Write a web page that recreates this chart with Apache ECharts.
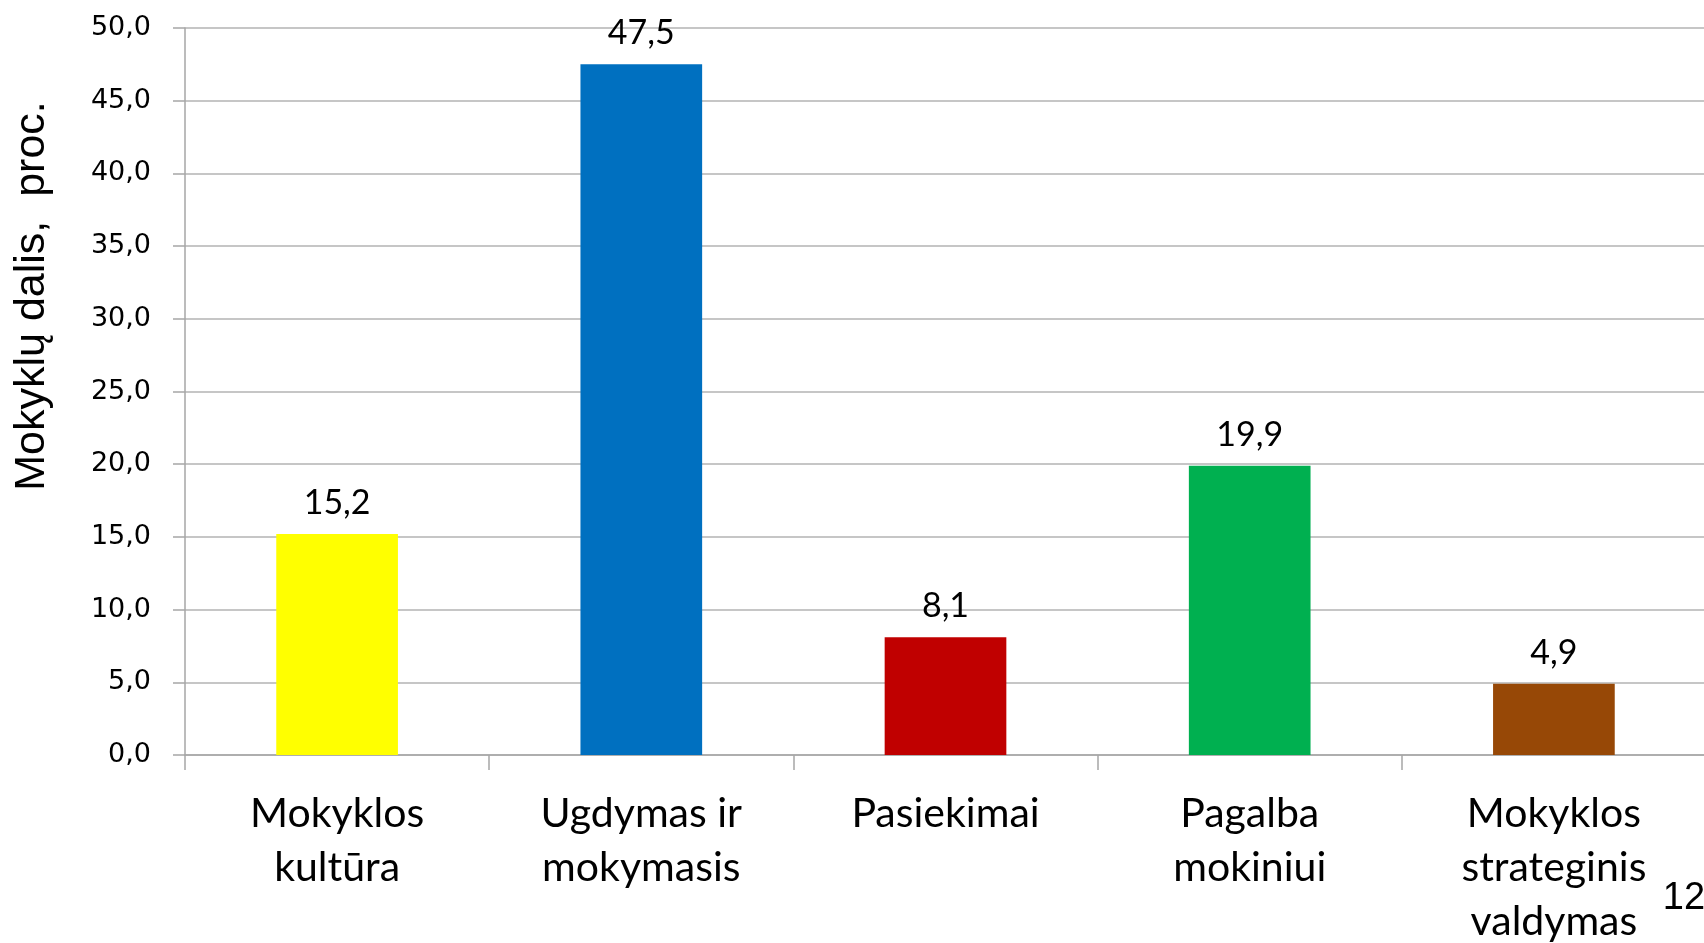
<!DOCTYPE html>
<html>
<head>
<meta charset="utf-8">
<script src="https://cdn.jsdelivr.net/npm/echarts@6/dist/echarts.min.js"></script>
<style>
  html, body { margin: 0; padding: 0; background: #fff; }
  #chart { width: 1704px; height: 943px; }
</style>
</head>
<body>
<div id="chart"></div>
<script>
const categories = ['Mokyklos\nkultūra', 'Ugdymas ir\nmokymasis', 'Pasiekimai', 'Pagalba\nmokiniui', 'Mokyklos\nstrateginis\nvaldymas']
const values = [15.2, 47.5, 8.1, 19.9, 4.9]
const barColors = ['#FFFF00', '#0070C0', '#C00000', '#00B050', '#974806']
const yTicks = [0, 5, 10, 15, 20, 25, 30, 35, 40, 45, 50]

const chart = echarts.init(document.getElementById('chart'))

const fmt = v => v.toFixed(1).replace('.', ',')

const option = {
  backgroundColor: '#ffffff',
  animation: false,
  grid: { left: 185, right: -2, top: 28, bottom: 188, containLabel: false, outerBoundsMode: 'none' },
  xAxis: {
    type: 'category',
    data: categories,
    axisLine: { show: true, lineStyle: { color: '#a6a6a6', width: 1.5 } },
    axisTick: { show: true, alignWithLabel: false, length: 15, lineStyle: { color: '#a6a6a6', width: 1.5 } },
    axisLabel: {
      interval: 0,
      margin: 32,
      fontFamily: 'Lato',
      fontSize: 41,
      lineHeight: 54,
      color: '#000'
    }
  },
  yAxis: {
    type: 'value',
    min: yTicks[0],
    max: yTicks[yTicks.length - 1],
    interval: 5,
    axisLine: { show: true, lineStyle: { color: '#a6a6a6', width: 1.5 } },
    axisTick: { show: true, inside: false, length: 12, lineStyle: { color: '#a6a6a6', width: 1.5 } },
    splitLine: { show: true, lineStyle: { color: '#b3b3b3', width: 1.5 } },
    axisLabel: {
      margin: 34,
      fontFamily: 'DejaVu Sans',
      fontSize: 27,
      color: '#000',
      formatter: v => fmt(v)
    }
  },
  series: [{
    type: 'bar',
    barWidth: '40%',
    data: values.map((v, i) => ({ value: v, itemStyle: { color: barColors[i] } })),
    label: {
      show: true,
      position: 'top',
      distance: 14,
      fontFamily: 'Lato',
      fontSize: 34,
      color: '#000',
      formatter: p => fmt(p.value)
    }
  }],
  graphic: [
    {
      type: 'text',
      x: 32,
      y: 296,
      rotation: Math.PI / 2,
      style: {
        text: 'Mokyklų dalis,  proc.',
        fontFamily: 'Liberation Sans',
        fontSize: 43,
        fill: '#000',
        align: 'center',
        verticalAlign: 'middle'
      }
    },
    {
      type: 'text',
      x: 1684,
      y: 899,
      style: {
        text: '12',
        fontFamily: 'Liberation Sans',
        fontSize: 38,
        fill: '#000',
        align: 'center',
        verticalAlign: 'middle'
      }
    }
  ]
}

chart.setOption(option)
</script>
</body>
</html>
